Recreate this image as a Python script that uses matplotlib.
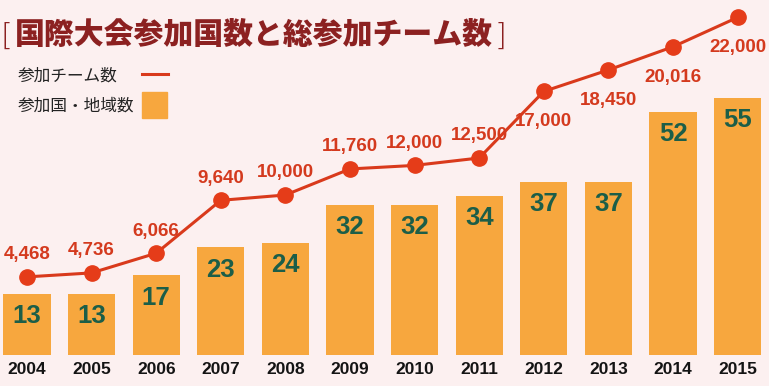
import matplotlib
matplotlib.use("Agg")
import matplotlib.pyplot as plt
from matplotlib.lines import Line2D
from matplotlib.patches import Rectangle

plt.rcParams['font.family'] = ['Noto Sans CJK JP', 'DejaVu Sans']

years = ["2004", "2005", "2006", "2007", "2008", "2009", "2010",
         "2011", "2012", "2013", "2014", "2015"]
countries = [13, 13, 17, 23, 24, 32, 32, 34, 37, 37, 52, 55]
teams = [4468, 4736, 6066, 9640, 10000, 11760, 12000, 12500,
         17000, 18450, 20016, 22000]

title = "国際大会参加国数と総参加チーム数"
legend_line = "参加チーム数"
legend_bar = "参加国・地域数"

BG = "#fcf0f0"
BAR = "#f7a73e"
LINE = "#d93a1c"
MARK = "#e53c19"
LBL_RED = "#d43a1e"
GREEN = "#1c5e48"
TITLE = "#8c2121"

W, H = 769, 386
fig = plt.figure(figsize=(W / 100, H / 100), dpi=100, facecolor=BG)

# axes: bottom at bar baseline (px 355), top at px 0
ax = fig.add_axes([0, 31 / H, 1, 355 / H])
ax.set_facecolor(BG)
x = list(range(len(years)))
ax.set_xlim(-27 / 64.6, (W - 27) / 64.6)
ax.set_ylim(0, 355 / 4.68)
ax.bar(x, countries, width=0.73, color=BAR, zorder=2)
for i, n in enumerate(countries):
    ax.annotate(str(n), (i, n), xytext=(0, -16), textcoords="offset points",
                ha="center", va="center", fontsize=18.5, fontweight="bold",
                color=GREEN, family="Liberation Sans", zorder=3)
ax.set_xticks(x)
ax.set_xticklabels(years, fontsize=12.5, fontweight="bold",
                   family="Liberation Sans", color="#141414")
ax.tick_params(axis="x", length=0, pad=5)
ax.set_yticks([])
for s in ax.spines.values():
    s.set_visible(False)

ax2 = ax.twinx()
ax2.set_ylim((343 - 355) / 0.0148, 343 / 0.0148)
ax2.plot(x, teams, color=LINE, lw=2.2, zorder=4)
ax2.plot(x, teams, "o", color=MARK, ms=11, zorder=5)
for i, v in enumerate(teams):
    off = 16 if i < 8 else -22
    ax2.annotate(f"{v:,}", (i, v), xytext=(0, off), textcoords="offset points",
                 ha="center", va="center", fontsize=13.5, fontweight="bold",
                 color=LBL_RED, family="Liberation Sans", zorder=6)
ax2.set_yticks([])
for s in ax2.spines.values():
    s.set_visible(False)

# title
fig.text(1 / W, 1 - 36 / H, "[", fontsize=22, color=TITLE, va="center",
         ha="left", family="DejaVu Sans", fontweight="light")
fig.text(15 / W, 1 - 35 / H, title, fontsize=21.5, fontweight="black",
         color=TITLE, va="center", ha="left")
fig.text(495 / W, 1 - 36 / H, "]", fontsize=22, color=TITLE, va="center",
         ha="left", family="DejaVu Sans", fontweight="light")

# legend
fig.text(18 / W, 1 - 76 / H, legend_line, fontsize=12, color="#222222",
         va="center", ha="left")
fig.text(18 / W, 1 - 106 / H, legend_bar, fontsize=12, color="#222222",
         va="center", ha="left")
fig.add_artist(Line2D([142 / W, 168 / W], [1 - 74 / H, 1 - 74 / H],
                      color=LINE, lw=2.2))
fig.add_artist(Rectangle((142 / W, 1 - 118 / H), 25 / W, 26 / H,
                         color=BAR, transform=fig.transFigure))

fig.savefig("out.png", dpi=100, facecolor=BG)
